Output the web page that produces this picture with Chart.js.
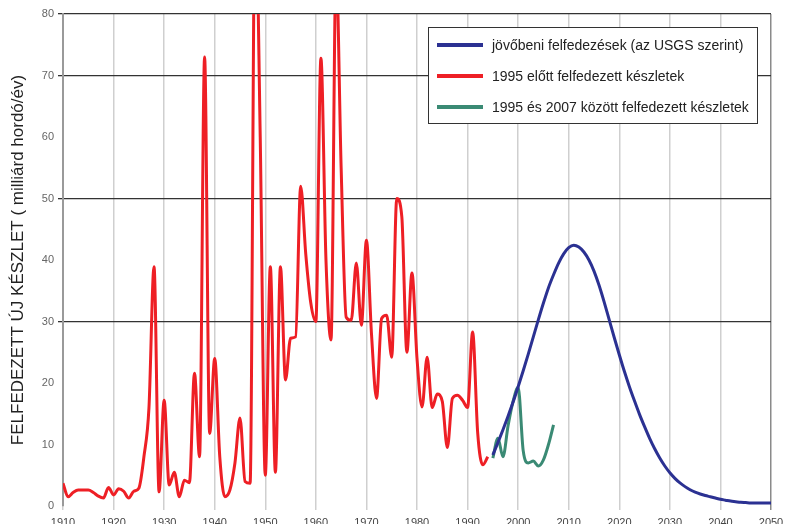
<!DOCTYPE html>
<html>
<head>
<meta charset="utf-8">
<script src="https://cdn.jsdelivr.net/npm/chart.js@4.4.0/dist/chart.umd.min.js"></script>
<style>
    html, body { margin: 0; padding: 0; background: #fff; overflow: hidden; }
    #wrap { width: 787px; height: 524px; overflow: hidden; }
</style>
</head>
<body>
<div id="wrap"><canvas id="chart-discovery" width="787" height="540"></canvas></div>
<script>
// Years and values
const redYears = [];
for (let y = 1910; y <= 1994; y++) redYears.push(y);
const redValues = [
    3.7, 1.5, 2.2, 2.6, 2.6, 2.6, 2.2, 1.6, 1.3, 3.0,      // 1910-1919
    1.8, 2.8, 2.4, 1.3, 2.4, 2.9, 8, 16, 38.9, 2.3,        // 1920-1929
    17.2, 3.4, 5.5, 1.5, 4.2, 3.8, 21.6, 8, 73, 11.8,      // 1930-1939
    24, 8, 1.5, 2.6, 7, 14.3, 4, 3.7, 100, 60,             // 1940-1949
    5, 38.9, 5.5, 38.9, 20.5, 27.3, 27.5, 52, 41, 33,      // 1950-1959
    30, 72.8, 40, 27, 88, 55, 30.7, 30.2, 39.5, 29.4,      // 1960-1969
    43.2, 28, 17.5, 30.5, 31, 24.2, 50, 47, 25, 37.9,      // 1970-1979
    24, 16.1, 24.2, 16, 18.2, 17, 9.5, 17.5, 18, 17.2,     // 1980-1989
    16, 28.3, 11.9, 6.7, 8                                 // 1990-1994
];

const greenYears = [1995, 1996, 1997, 1998, 1999, 2000, 2001, 2002, 2003, 2004, 2005, 2006, 2007];
const greenValues = [7.8, 11, 8, 13, 17, 19.3, 9, 7, 7.3, 6.5, 7.5, 10, 13.2];

const blueYears = [];
for (let y = 1995; y <= 2050; y++) blueYears.push(y);
const blueValues = [
    8.3, 10.3, 12.4, 14.6, 16.9, 19.4,                     // 1995-2000
    22.0, 24.7, 27.5, 30.3, 33.0, 35.5, 37.6, 39.5, 41.0, 42.0,   // 2001-2010
    42.4, 42.1, 41.3, 40.0, 38.2, 35.9, 33.2, 30.3, 27.4, 24.6,   // 2011-2020
    21.9, 19.4, 17.1, 14.9, 12.9, 11.0, 9.3, 7.8, 6.5, 5.4,       // 2021-2030
    4.5, 3.75, 3.15, 2.65, 2.25, 1.95, 1.7, 1.5, 1.3, 1.1,        // 2031-2040
    0.95, 0.8, 0.7, 0.6, 0.55, 0.5, 0.5, 0.5, 0.5, 0.5            // 2041-2050
];

const seriesLabels = [
    'jövőbeni felfedezések (az USGS szerint)',
    '1995 előtt felfedezett készletek',
    '1995 és 2007 között felfedezett készletek'
];

const yTicksWithGrid = [30, 50, 70, 80];

function toPoints(xs, ys) {
    return xs.map((x, i) => ({ x: x, y: ys[i] }));
}

// Legend drawn inside the plot, in a framed white box
const boxLegend = {
    id: 'boxLegend',
    afterDatasetsDraw(chart) {
        const ctx = chart.ctx;
        const left = 428, top = 27, width = 329, height = 96;
        ctx.save();
        ctx.fillStyle = '#fff';
        ctx.fillRect(left, top, width, height);
        ctx.strokeStyle = '#333';
        ctx.lineWidth = 1;
        ctx.strokeRect(left + 0.5, top + 0.5, width, height);
        ctx.font = "14px 'Liberation Sans', Arial, sans-serif";
        ctx.textBaseline = 'middle';
        chart.data.datasets.forEach((ds, i) => {
            const y = 45 + i * 31;
            ctx.strokeStyle = ds.borderColor;
            ctx.lineWidth = 4;
            ctx.beginPath();
            ctx.moveTo(437, y);
            ctx.lineTo(483, y);
            ctx.stroke();
            ctx.fillStyle = '#222';
            ctx.fillText(ds.label, 492, y + 1);
        });
        ctx.restore();
    }
};

new Chart(document.getElementById('chart-discovery'), {
    type: 'line',
    data: {
        datasets: [
            {
                label: seriesLabels[0],
                data: toPoints(blueYears, blueValues),
                borderColor: '#2b3192',
                borderWidth: 3,
                pointRadius: 0,
                cubicInterpolationMode: 'monotone'
            },
            {
                label: seriesLabels[1],
                data: toPoints(redYears, redValues),
                borderColor: '#ee1f25',
                borderWidth: 3,
                pointRadius: 0,
                cubicInterpolationMode: 'monotone'
            },
            {
                label: seriesLabels[2],
                data: toPoints(greenYears, greenValues),
                borderColor: '#3a8a74',
                borderWidth: 3,
                pointRadius: 0,
                cubicInterpolationMode: 'monotone'
            }
        ]
    },
    options: {
        responsive: false,
        animation: false,
        layout: { padding: { top: 14, right: 16, left: 0, bottom: 0 } },
        plugins: {
            legend: { display: false },
            tooltip: { enabled: false }
        },
        scales: {
            x: {
                type: 'linear',
                min: 1910,
                max: 2050,
                border: { display: false },
                grid: {
                    color: ctx => ctx.tick && ctx.tick.value === 2050 ? '#8a8a8a' : '#cfcfcf',
                    lineWidth: 1.5,
                    tickLength: 4
                },
                ticks: {
                    stepSize: 10,
                    color: '#444',
                    padding: 6,
                    maxRotation: 0,
                    callback: value => String(value),
                    font: { family: "'Liberation Sans', Arial, sans-serif", size: 11 }
                },
                afterFit: scale => {
                    scale.height = 34;
                    scale.paddingLeft = 0;
                    scale.paddingRight = 0;
                }
            },
            y: {
                min: 0,
                max: 80,
                border: { color: '#9a9a9a', width: 2 },
                grid: {
                    color: ctx => yTicksWithGrid.includes(ctx.tick && ctx.tick.value) ? '#333' : 'rgba(0,0,0,0)',
                    lineWidth: 1.3,
                    tickLength: 5
                },
                ticks: {
                    stepSize: 10,
                    color: '#666',
                    padding: 4,
                    font: { family: "'Liberation Sans', Arial, sans-serif", size: 11 }
                },
                title: {
                    display: true,
                    text: 'FELFEDEZETT ÚJ KÉSZLET ( milliárd hordó/év)',
                    color: '#222',
                    padding: { top: 8, bottom: 0 },
                    font: { family: "'Liberation Sans', Arial, sans-serif", size: 17 }
                },
                afterFit: scale => { scale.width = 63; }
            }
        }
    },
    plugins: [boxLegend]
});
</script>
</body>
</html>
